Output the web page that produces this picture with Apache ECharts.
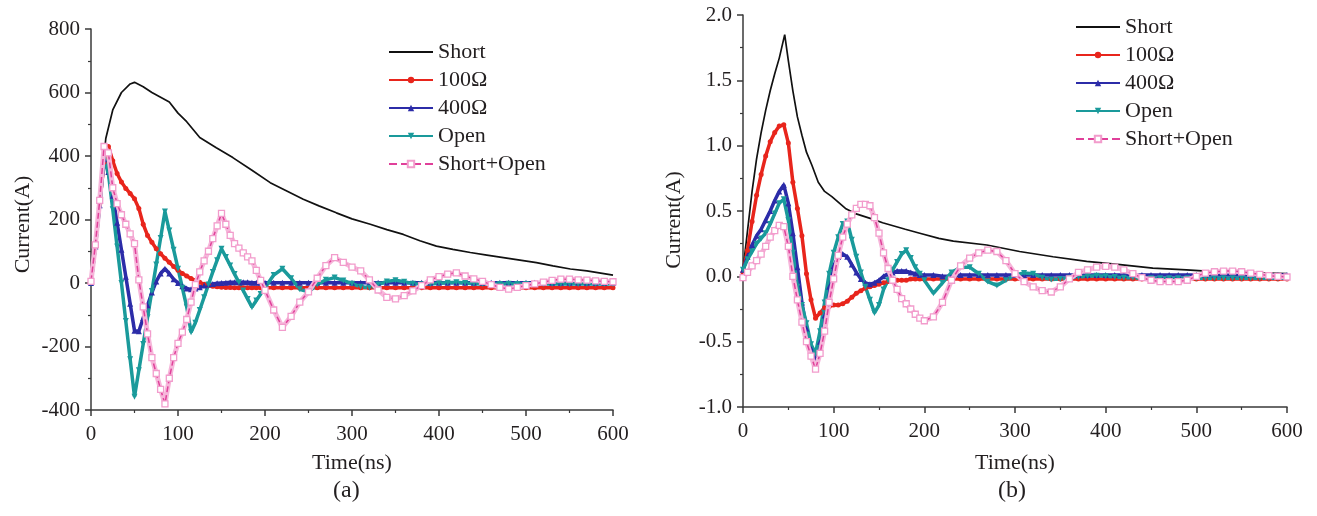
<!DOCTYPE html>
<html><head><meta charset="utf-8">
<script src="https://cdn.jsdelivr.net/npm/echarts@6/dist/echarts.min.js"></script>
<style>html,body{margin:0;padding:0;background:#fff}#c{width:1317px;height:516px}</style>
</head><body><div id="c"></div>
<script>
// time grid (ns) shared by marker series
const T = [0,5,10,15,20,25,30,35,40,45,50,55,60,65,70,75,80,85,90,95,100,105,110,115,120,125,130,135,140,145,150,155,160,165,170,175,180,185,190,195,200,210,220,230,240,250,260,270,280,290,300,310,320,330,340,350,360,370,380,390,400,410,420,430,440,450,460,470,480,490,500,510,520,530,540,550,560,570,580,590,600];

// ---- chart (a) ----
const shortA_t = [0,10,17,25,35,45,50,60,70,80,90,100,110,125,144,163,185,206,225,244,262,282,300,321,340,359,378,397,416,436,455,474,493,512,531,551,570,600];
const shortA_v = [0,260,455,545,600,627,632,618,600,585,570,535,508,458,426,395,355,316,290,264,243,221,202,185,168,153,133,116,106,96,88,80,72,64,54,44,38,25];
const r100A = [0,120,250,380,430,385,345,318,298,282, 265,235,185,150,128,108,92,78,65,52, 40,30,22,14,8,2,-4,-7,-10,-12, -13,-14,-14,-15,-15,-15,-15,-15,-15,-15, -15,
  -15,-15,-15,-15,-15,-15,-15,-15,-15,-15, -15,-15,-15,-15,-15,-15,-15,-15,-15,-15, -15,-15,-15,-15,-15,-15,-15,-15,-15,-15, -15,-15,-15,-15,-15,-15,-15,-15,-15,-15];
const r400A = [0,115,245,390,350,275,190,105,20,-65, -150,-152,-110,-70,-30,5,30,45,30,12, 0,-10,-17,-20,-17,-13,-8,-5,-3,-1, 0,1,2,2,2,2,2,1,1,1, 1,
  1,1,1,1,1,1,1,1,1,1, 1,1,1,1,1,1,1,1,1,1, 1,1,1,1,1,1,1,1,1,1, 1,1,1,1,1,1,1,1,1,1];
const openA = [0,115,245,400,345,232,115,0,-120,-240, -358,-275,-192,-108,-25,58,142,225,165,105, 45,-15,-75,-155,-125,-85,-45,-5,35,72, 108,82,55,28,2,-24,-50,-76,-55,-35, -15,
  25,45,15,-20,-28,-5,10,17,8,-2, -12,-15,-5,5,9,4,-2,-4,-3,-1, 1,2,0,-2,-3,-3,-3,-2,-3,-3, -3,-3,-3,-3,-3,-3,-3,-3,-3,-3];
const soA = [5,120,260,430,410,300,250,215,185,155, 124,10,-75,-160,-235,-285,-335,-381,-300,-235, -190,-155,-115,-60,-5,35,70,100,140,180, 219,185,150,124,110,95,82,70,40,8, -23,
  -85,-140,-105,-60,-28,15,55,80,65,50, 38,10,-22,-45,-50,-40,-25,-8,10,20, 28,32,22,13,5,-5,-14,-19,-14,-8, -3,3,8,12,12,10,9,7,5,4];

// ---- chart (b) ----
const shortB_t = [0,5,10,15,20,25,30,35,40,46,50,55,60,65,70,76,83,90,98,113,124,142,154,179,195,216,232,269,305,342,379,416,452,489,511,550,600];
const shortB_v = [0.05,0.35,0.65,0.9,1.1,1.27,1.42,1.55,1.67,1.85,1.65,1.42,1.22,1.08,0.95,0.85,0.72,0.65,0.61,0.52,0.48,0.44,0.41,0.36,0.33,0.29,0.27,0.24,0.19,0.15,0.115,0.09,0.063,0.05,0.04,0.03,0.02];
const r100B = [0.03,0.20,0.42,0.62,0.78,0.92,1.03,1.10,1.15,1.16, 1.02,0.72,0.52,0.31,0.02,-0.18,-0.32,-0.28,-0.24,-0.23, -0.22,-0.22,-0.21,-0.19,-0.16,-0.13,-0.11,-0.09,-0.08,-0.07, -0.06,-0.05,-0.04,-0.04,-0.03,-0.03,-0.03,-0.02,-0.02,-0.02, -0.02,
  -0.02,-0.02,-0.02,-0.02,-0.02,-0.02,-0.02,-0.02,-0.02,-0.02, -0.02,-0.02,-0.02,-0.02,-0.02,-0.02,-0.02,-0.02,-0.02,-0.02, -0.02,-0.02,-0.02,-0.02,-0.02,-0.02,-0.02,-0.02,-0.02,-0.02, -0.02,-0.02,-0.02,-0.02,-0.02,-0.02,-0.02,-0.02,-0.02,-0.02];
const r400B = [0.05,0.15,0.24,0.31,0.36,0.43,0.50,0.58,0.65,0.70, 0.56,0.33,0.07,-0.20,-0.40,-0.55,-0.64,-0.50,-0.30,-0.08, 0.08,0.15,0.17,0.15,0.09,0.03,-0.02,-0.05,-0.06,-0.05, -0.03,0.00,0.02,0.03,0.04,0.04,0.04,0.03,0.02,0.01, 0.01,
  0.01,0.00,0.00,0.01,0.01,0.01,0.01,0.01,0.01,0.01, 0.01,0.01,0.01,0.01,0.01,0.01,0.01,0.01,0.01,0.01, 0.01,0.01,0.01,0.01,0.01,0.01,0.01,0.01,0.01,0.01, 0.01,0.01,0.01,0.01,0.01,0.01,0.01,0.01,0.01,0.01];
const openB = [0.05,0.13,0.19,0.25,0.29,0.33,0.40,0.48,0.56,0.59, 0.43,0.18,-0.08,-0.22,-0.36,-0.52,-0.59,-0.42,-0.20,0.02, 0.18,0.30,0.40,0.42,0.28,0.15,0.03,-0.08,-0.18,-0.28, -0.22,-0.10,-0.03,0.05,0.11,0.17,0.20,0.14,0.07,0.02, -0.03,
  -0.13,-0.05,0.03,0.07,0.07,0.02,-0.04,-0.07,-0.03,0.01, 0.025,0.02,-0.01,-0.025,-0.02,-0.01,-0.005,0.0,0.005,0.0, -0.005,-0.01,-0.01,-0.015,-0.015,-0.015,-0.015,-0.015,-0.015,-0.015, -0.015,-0.015,-0.015,-0.015,-0.015,-0.015,-0.015,-0.015,-0.015,-0.015];
const soB = [-0.01,0.03,0.08,0.12,0.17,0.23,0.30,0.35,0.39,0.38, 0.23,0.00,-0.18,-0.35,-0.50,-0.61,-0.71,-0.59,-0.42,-0.20, -0.02,0.16,0.30,0.40,0.47,0.52,0.55,0.55,0.54,0.45, 0.33,0.18,0.06,-0.03,-0.10,-0.17,-0.21,-0.25,-0.29,-0.32, -0.34,
  -0.31,-0.20,-0.03,0.08,0.14,0.18,0.20,0.19,0.12,0.02, -0.04,-0.08,-0.11,-0.12,-0.08,-0.02,0.03,0.05,0.07,0.076, 0.07,0.05,0.02,-0.01,-0.03,-0.04,-0.04,-0.04,-0.03,0.0, 0.025,0.035,0.04,0.04,0.035,0.025,0.015,0.005,0.0,-0.005];

const names = ['Short','100Ω','400Ω','Open','Short+Open'];
const xTicks = {min:0, max:600, interval:100};
const yTicksA = {min:-400, max:800, interval:200};
const yTicksB = {min:-1, max:2, interval:0.5};

const FONT = '"Liberation Serif","Times New Roman",serif';
const TXT = '#231f20';
const AX = '#3a3a3a';
function pairs(t, v){ return t.map((x,i)=>[x, v[i]]); }

function xAxis(gi, gap){
  return {type:'value', gridIndex:gi, min:xTicks.min, max:xTicks.max, interval:xTicks.interval,
    name:'Time(ns)', nameLocation:'middle', nameGap:gap,
    nameTextStyle:{fontFamily:FONT, fontSize:22, color:TXT},
    axisLine:{show:true, onZero:false, lineStyle:{color:AX, width:1.5}},
    axisTick:{show:true, inside:false, length:6, lineStyle:{color:AX, width:1.5}},
    minorTick:{show:true, splitNumber:2, length:3, lineStyle:{color:AX, width:1.2}},
    splitLine:{show:false},
    axisLabel:{fontFamily:FONT, fontSize:21, color:TXT, margin:14}};
}
function yAxis(gi, tk, gap, fmt, shift){
  return {type:'value', gridIndex:gi, min:tk.min, max:tk.max, interval:tk.interval,
    name:'Current(A)', nameLocation:'middle', nameGap:gap, nameRotate:90,
    nameTextStyle:{fontFamily:FONT, fontSize:22, color:TXT, padding:[0, shift, 0, 0]},
    axisLine:{show:true, onZero:false, lineStyle:{color:AX, width:1.5}},
    axisTick:{show:true, inside:false, length:6, lineStyle:{color:AX, width:1.5}},
    minorTick:{show:true, splitNumber:2, length:3, lineStyle:{color:AX, width:1.2}},
    splitLine:{show:false},
    axisLabel:{fontFamily:FONT, fontSize:21, color:TXT, margin:11, formatter:fmt}};
}
function mk(gi, shortT, shortV, a, b, c, d){
  const base = {type:'line', xAxisIndex:gi, yAxisIndex:gi, animation:false, z:2};
  return [
    Object.assign({}, base, {name:names[0], data:pairs(shortT, shortV), symbol:'none',
      lineStyle:{color:'#111', width:1.7}, itemStyle:{color:'#111'}}),
    Object.assign({}, base, {name:names[1], data:pairs(T, a), symbol:'circle', symbolSize:5,
      lineStyle:{color:'#e8251c', width:3.5}, itemStyle:{color:'#e8251c'}}),
    Object.assign({}, base, {name:names[2], data:pairs(T, b), symbol:'triangle', symbolSize:6,
      lineStyle:{color:'#2c2ca8', width:3.5}, itemStyle:{color:'#2c2ca8'}}),
    Object.assign({}, base, {name:names[3], data:pairs(T, c), symbol:'triangle', symbolRotate:180, symbolSize:6,
      lineStyle:{color:'#1a9a9b', width:3.5}, itemStyle:{color:'#1a9a9b'}}),
    Object.assign({}, base, {name:names[4], data:pairs(T, d), symbol:'rect', symbolSize:6, z:4,
      lineStyle:{color:'#e0409a', width:1.5, type:'dashed'},
      itemStyle:{color:'#fff', borderColor:'#f29ccc', borderWidth:1.3}}),
    // light pink band under the square markers
    Object.assign({}, base, {name:names[4], data:pairs(T, d), symbol:'none', z:3,
      lineStyle:{color:'#f6b6da', width:5}})
  ];
}
function legend(left, top){
  return {data:[{name:'Short', icon:'path://M0,0h44v1.8h-44z'}, '100Ω', '400Ω', 'Open', 'Short+Open'],
    orient:'vertical', left:left, top:top, itemWidth:44, itemHeight:8, itemGap:6,
    itemTextGap:5, selectedMode:false,
    textStyle:{fontFamily:FONT, fontSize:22, lineHeight:22, color:TXT}};
}

const chart = echarts.init(document.getElementById('c'));
chart.setOption({
  backgroundColor:'#fff',
  animation:false,
  grid:[{left:91, top:29, width:522, height:381}, {left:743, top:15, width:544, height:392}],
  xAxis:[xAxis(0, 42), xAxis(1, 45)],
  yAxis:[yAxis(0, yTicksA, 57, v=>String(v), 10), yAxis(1, yTicksB, 58, v=>v.toFixed(1), 18)],
  legend:[legend(383, 36), legend(1070, 11)],
  series:[].concat(mk(0, shortA_t, shortA_v, r100A, r400A, openA, soA),
                   mk(1, shortB_t, shortB_v, r100B, r400B, openB, soB)),
  graphic:[
    {type:'text', left:333, top:479, style:{text:'(a)', font:'24px '+FONT, fill:TXT}},
    {type:'text', left:998, top:479, style:{text:'(b)', font:'24px '+FONT, fill:TXT}}
  ]
});
</script></body></html>
